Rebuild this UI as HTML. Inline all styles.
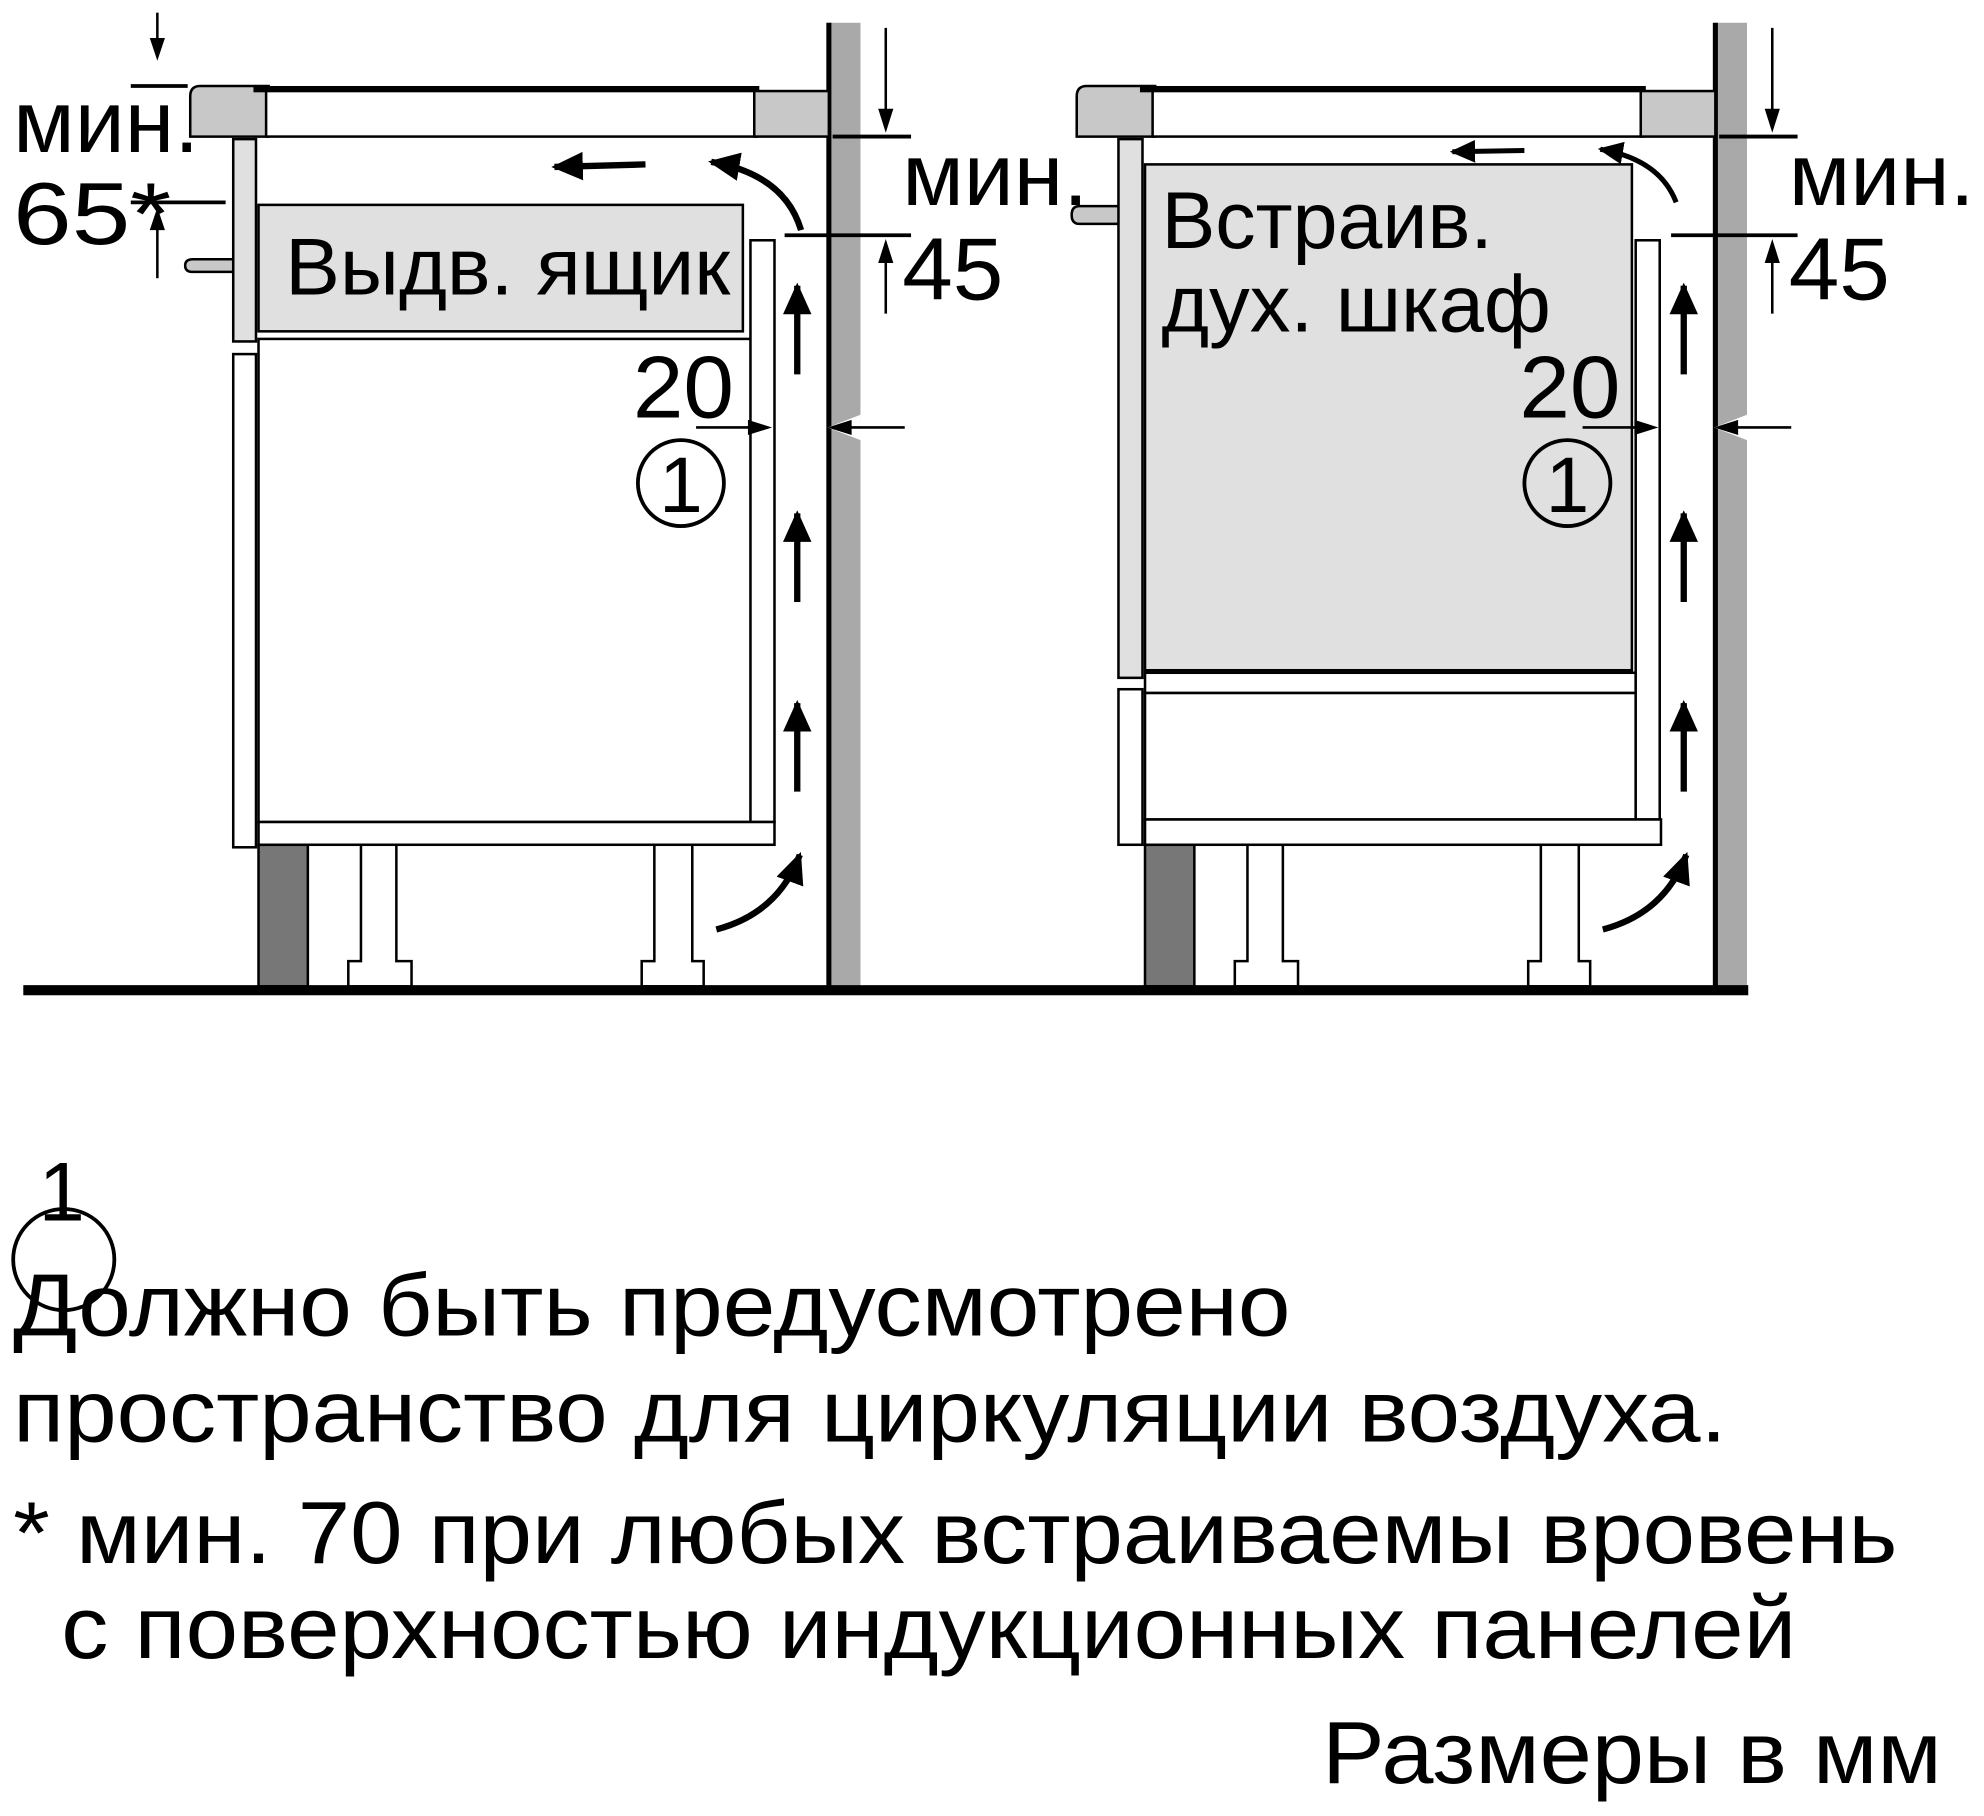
<!DOCTYPE html>
<html><head><meta charset="utf-8"><style>html,body{margin:0;padding:0;background:#fff}svg{display:block}text{font-family:"Liberation Sans",sans-serif;fill:#000}</style></head><body>
<svg width="1984" height="1816" viewBox="0 0 1568 1436" xmlns="http://www.w3.org/2000/svg">
<defs>
<marker id="as" viewBox="0 0 10 10" refX="9" refY="5" markerWidth="5" markerHeight="5" orient="auto"><path d="M0,0.5 L10,5 L0,9.5z" fill="#000"/></marker>
<g id="unit">
<rect x="655" y="18" width="25" height="762" fill="#a9a9a9"/>
<line x1="655" y1="18" x2="655" y2="780" stroke="#000" stroke-width="4"/>
<path d="M158,68 H212 V108 H150 V76 Q150,68 158,68z" fill="#c8c8c8" stroke="#000" stroke-width="2"/>
<rect x="200" y="68" width="400" height="5" fill="#000"/>
<rect x="210" y="72" width="388" height="36" fill="#fff" stroke="#000" stroke-width="2"/>
<rect x="596" y="72" width="59" height="36" fill="#c8c8c8" stroke="#000" stroke-width="2"/>
<rect x="204" y="668" width="39" height="112" fill="#777" stroke="#000" stroke-width="2"/>
<path d="M285,668 V760 H275 V780 H325 V760 H313 V668" fill="#fff" stroke="#000" stroke-width="2"/>
<path d="M517,668 V760 H507 V780 H556 V760 H547 V668" fill="#fff" stroke="#000" stroke-width="2"/>
<line x1="700" y1="22" x2="700" y2="88" stroke="#000" stroke-width="2"/>
<polygon points="694,86 706,86 700,105" fill="#000"/>
<line x1="658" y1="108" x2="720" y2="108" stroke="#000" stroke-width="3"/>
<line x1="620" y1="186" x2="720" y2="186" stroke="#000" stroke-width="3"/>
<line x1="700" y1="248" x2="700" y2="205" stroke="#000" stroke-width="2"/>
<polygon points="694,208 706,208 700,189" fill="#000"/>
<text x="713" y="162" font-size="70" textLength="147" lengthAdjust="spacingAndGlyphs">мин.</text>
<text x="713" y="237" font-size="70" textLength="80" lengthAdjust="spacingAndGlyphs">45</text>
<line x1="630" y1="296" x2="630" y2="226" stroke="#000" stroke-width="5" marker-end="url(#as)"/>
<line x1="630" y1="476" x2="630" y2="406" stroke="#000" stroke-width="5" marker-end="url(#as)"/>
<line x1="630" y1="626" x2="630" y2="556" stroke="#000" stroke-width="5" marker-end="url(#as)"/>
<path d="M566,735 Q615,722 632,676" fill="none" stroke="#000" stroke-width="5" marker-end="url(#as)"/>
</g>
<g id="lab">
<text x="500" y="330" font-size="70" textLength="80" lengthAdjust="spacingAndGlyphs">20</text>
<line x1="550" y1="338" x2="594" y2="338" stroke="#000" stroke-width="2"/>
<polygon points="591,332 591,344 610,338" fill="#000"/>
<polygon points="654,338 680,328 680,348" fill="#fff"/>
<line x1="715" y1="338" x2="670" y2="338" stroke="#000" stroke-width="2"/>
<polygon points="673,332 673,344 654,338" fill="#000"/>
<circle cx="538" cy="382" r="34" fill="none" stroke="#000" stroke-width="3"/>
<text x="538" y="405" font-size="62" text-anchor="middle">1</text>
</g>
</defs>
<use href="#unit"/>
<use href="#unit" transform="translate(701,0)"/>
<rect x="18" y="779" width="1364" height="8" fill="#000"/>
<!-- LEFT -->
<line x1="124" y1="10" x2="124" y2="32" stroke="#000" stroke-width="2"/>
<polygon points="118,30 130,30 124,48" fill="#000"/>
<line x1="103" y1="68" x2="148" y2="68" stroke="#000" stroke-width="3"/>
<line x1="103" y1="160" x2="178" y2="160" stroke="#000" stroke-width="3"/>
<line x1="124" y1="220" x2="124" y2="178" stroke="#000" stroke-width="2"/>
<polygon points="118,182 130,182 124,164" fill="#000"/>
<text x="10" y="120" font-size="70" textLength="147" lengthAdjust="spacingAndGlyphs">мин.</text>
<text x="10" y="193" font-size="70" textLength="125" lengthAdjust="spacingAndGlyphs">65*</text>
<path d="M184,205 H152 Q146,205 146,210 Q146,215 152,215 H184" fill="#c8c8c8" stroke="#000" stroke-width="2"/>
<rect x="184" y="110" width="18" height="160" fill="#e0e0e0" stroke="#000" stroke-width="2"/>
<rect x="184" y="280" width="18" height="390" fill="#fff" stroke="#000" stroke-width="2"/>
<rect x="204" y="162" width="383" height="100" fill="#e0e0e0" stroke="#000" stroke-width="2"/>
<text x="225" y="233" font-size="64" textLength="352" lengthAdjust="spacingAndGlyphs">Выдв. ящик</text>
<rect x="204" y="268" width="396" height="382" fill="#fff" stroke="#000" stroke-width="2"/>
<rect x="593" y="190" width="19" height="460" fill="#fff" stroke="#000" stroke-width="2"/>
<rect x="204" y="650" width="408" height="18" fill="#fff" stroke="#000" stroke-width="2"/>
<line x1="510" y1="130" x2="438" y2="132" stroke="#000" stroke-width="5" marker-end="url(#as)"/>
<path d="M633,182 Q620,138 562,128" fill="none" stroke="#000" stroke-width="5" marker-end="url(#as)"/>
<use href="#lab"/>
<!-- RIGHT -->
<path d="M885,163 H853 Q847,163 847,170 Q847,177 853,177 H885" fill="#c8c8c8" stroke="#000" stroke-width="2"/>
<rect x="884" y="110" width="19" height="426" fill="#e0e0e0" stroke="#000" stroke-width="2"/>
<rect x="884" y="545" width="19" height="123" fill="#fff" stroke="#000" stroke-width="2"/>
<rect x="905" y="130" width="385" height="400" fill="#e0e0e0" stroke="#000" stroke-width="2"/>
<text x="918" y="196" font-size="64" textLength="262" lengthAdjust="spacingAndGlyphs">Встраив.</text>
<text x="918" y="262" font-size="64" textLength="308" lengthAdjust="spacingAndGlyphs">дух. шкаф</text>
<rect x="905" y="532" width="388" height="16" fill="#fff" stroke="#000" stroke-width="2"/>
<rect x="905" y="548" width="388" height="100" fill="#fff" stroke="#000" stroke-width="2"/>
<rect x="1293" y="190" width="19" height="458" fill="#fff" stroke="#000" stroke-width="2"/>
<rect x="905" y="648" width="408" height="20" fill="#fff" stroke="#000" stroke-width="2"/>
<line x1="1205" y1="119" x2="1148" y2="120" stroke="#000" stroke-width="4" marker-end="url(#as)"/>
<path d="M1325,160 Q1312,126 1265,118" fill="none" stroke="#000" stroke-width="4" marker-end="url(#as)"/>
<use href="#lab" transform="translate(701,0)"/>
<!-- bottom text -->
<circle cx="50" cy="996" r="40" fill="none" stroke="#000" stroke-width="3"/>
<text x="30" y="965" font-size="66">1</text>
<text x="10" y="1056" font-size="70" textLength="1010" lengthAdjust="spacingAndGlyphs">Должно быть предусмотрено</text>
<text x="10" y="1140" font-size="70" textLength="1355" lengthAdjust="spacingAndGlyphs">пространство для циркуляции воздуха.</text>
<text x="10" y="1236" font-size="70" textLength="1490" lengthAdjust="spacingAndGlyphs">* мин. 70 при любых встраиваемы вровень</text>
<text x="48" y="1311" font-size="70" textLength="1372" lengthAdjust="spacingAndGlyphs">с поверхностью индукционных панелей</text>
<text x="1045" y="1410" font-size="70" textLength="490" lengthAdjust="spacingAndGlyphs">Размеры в мм</text>
</svg>
</body></html>
